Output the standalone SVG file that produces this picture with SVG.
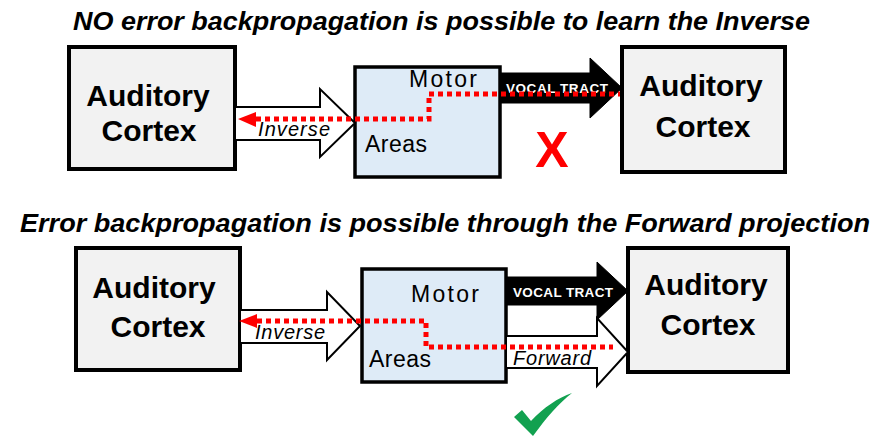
<svg xmlns="http://www.w3.org/2000/svg" width="890" height="438" viewBox="0 0 890 438">
<style>
text{font-family:"Liberation Sans",Arial,sans-serif;fill:#000}
.title{font-size:25px;font-weight:bold;font-style:italic}
.aud{fill:#f2f2f2;stroke:#000;stroke-width:4}
.mot{fill:#deebf7;stroke:#000;stroke-width:3.5}
.big{font-size:30px;font-weight:bold;text-anchor:middle}
.mtxt{font-size:23px}
.hollow{fill:#fff;stroke:#000;stroke-width:2}
.solid{fill:#000;stroke:#000;stroke-width:1}
.vt{font-size:13.5px;font-weight:bold;fill:#fff}
.lbl{font-size:20px;font-style:italic}
.dot{fill:none;stroke:#ff0000;stroke-width:5;stroke-dasharray:5 4}
.rh{fill:#ff0000}
</style>
<text class="title" x="73" y="30" textLength="737" lengthAdjust="spacingAndGlyphs">NO error backpropagation is possible to learn the Inverse</text>
<text class="title" x="20" y="232" textLength="850" lengthAdjust="spacingAndGlyphs">Error backpropagation is possible through the Forward projection</text>

<g id="top-auditory-left">
<rect class="aud" x="69" y="47" width="166" height="122"/>
<text class="big" x="148" y="106">Auditory</text>
<text class="big" x="149" y="141">Cortex</text>
</g>
<g id="top-motor">
<rect class="mot" x="355" y="67" width="145" height="110"/>
<text class="mtxt" x="409" y="87" textLength="68">Motor</text>
<text class="mtxt" x="365" y="152" textLength="62">Areas</text>
</g>
<g id="top-auditory-right">
<rect class="aud" x="622" y="47" width="163" height="125"/>
<text class="big" x="701" y="96">Auditory</text>
<text class="big" x="703" y="137">Cortex</text>
</g>

<g id="bottom-auditory-left">
<rect class="aud" x="76" y="248" width="164" height="122"/>
<text class="big" x="154" y="298">Auditory</text>
<text class="big" x="158" y="337">Cortex</text>
</g>
<g id="bottom-motor">
<rect class="mot" x="362" y="269" width="144" height="113"/>
<text class="mtxt" x="411" y="302" textLength="68">Motor</text>
<text class="mtxt" x="369" y="367" textLength="62">Areas</text>
</g>
<g id="bottom-auditory-right">
<rect class="aud" x="628" y="248" width="160" height="124"/>
<text class="big" x="706" y="295">Auditory</text>
<text class="big" x="708" y="335">Cortex</text>
</g>

<g id="connectors">
<polygon class="hollow" points="235,107 320,107 320,89 355,123 320,157 320,140 235,140"/>
<polygon class="solid" points="500,73 590,73 590,58 622,88 590,118 590,103 500,103"/>
<polygon class="hollow" points="240,310 327,310 327,292 360,326 327,360 327,343 240,343"/>
<polygon class="solid" points="506,277 597,277 597,262 628,291 597,320 597,305 506,305"/>
<polygon class="hollow" points="506,336 597,336 597,318 628,352 597,386 597,368 506,368"/>
<text class="lbl" x="258" y="136" textLength="72">Inverse</text>
<text class="lbl" x="255" y="339" textLength="70">Inverse</text>
<text class="lbl" x="513" y="365" textLength="78">Forward</text>
<text class="vt" x="506" y="93" textLength="102">VOCAL TRACT</text>
<text class="vt" x="513" y="297" textLength="100">VOCAL TRACT</text>
<path class="dot" d="M256,119 H429 V94 H620"/>
<polygon class="rh" points="238,119 256,112 256,127"/>
<path class="dot" d="M257,321 H426 V347 H613"/>
<polygon class="rh" points="239,321 257,314 257,328"/>
</g>

<text x="552" y="167" style="font-size:50px;font-weight:bold;fill:#ff0000;text-anchor:middle">X</text>
<path d="M514,417 L522,410 L531,421 C544,407 558,398 572,393 C559,403 546,418 533,436 Z" fill="#12a150"/>
</svg>
